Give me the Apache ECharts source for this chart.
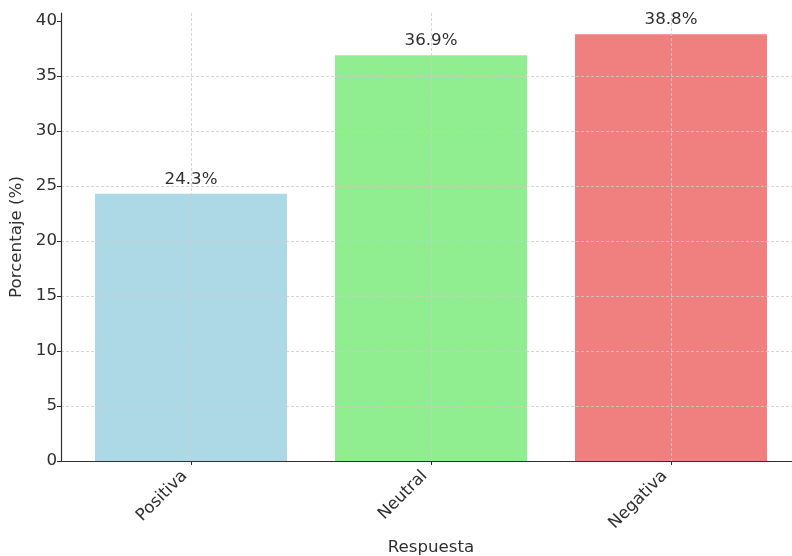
<!DOCTYPE html>
<html>
<head>
<meta charset="utf-8">
<script src="https://cdn.jsdelivr.net/npm/echarts@6/dist/echarts.min.js"></script>
<style>
  html, body { margin: 0; padding: 0; background: #ffffff; }
  #chart { width: 792px; height: 556px; }
</style>
</head>
<body>
<div id="chart"></div>
<script>
// Survey responses and their share of the total
const categories = ['Positiva', 'Neutral', 'Negativa'];
const percentages = [24.3, 36.9, 38.8];
const barColors = ['#ADD8E6', '#90EE90', '#F08080'];
const yTicks = [0, 5, 10, 15, 20, 25, 30, 35, 40];
const yMax = 40.74;

const FONT = 'DejaVu Sans';
const TEXT = '#303030';
const FS = 16.67;
const gridDash = { color: '#cccccc', width: 0.8, type: [3, 2] };

const chart = echarts.init(document.getElementById('chart'));

chart.setOption({
  animation: false,
  backgroundColor: '#ffffff',
  grid: [
    // frame: y axis, horizontal gridlines and the base line
    { left: 61, top: 13, width: 731, height: 448, outerBoundsMode: 'none', containLabel: false },
    // bars, centred on the category bands
    { left: 71, top: 13, width: 720, height: 448, outerBoundsMode: 'none', containLabel: false }
  ],
  xAxis: [
    {
      gridIndex: 0, type: 'value', min: 0, max: 1, z: 3,
      axisLine: { show: true, onZero: false, lineStyle: { color: TEXT, width: 1.2 } },
      axisTick: { show: false }, axisLabel: { show: false }, splitLine: { show: false }
    },
    {
      gridIndex: 1, type: 'category', data: categories, z: 3,
      axisLine: { show: false },
      axisTick: { show: true, alignWithLabel: true, length: 4, lineStyle: { color: TEXT, width: 1 } },
      axisLabel: {
        rotate: 45, margin: 6, padding: [0, 9, 0, 0],
        fontSize: FS, color: TEXT, fontFamily: FONT
      },
      splitLine: { show: false },
      name: 'Respuesta', nameLocation: 'middle', nameGap: 78,
      nameTextStyle: { fontSize: FS, color: TEXT, fontFamily: FONT }
    }
  ],
  yAxis: [
    {
      gridIndex: 0, type: 'value', min: 0, max: yMax, interval: 5, z: 3,
      axisLine: { show: true, lineStyle: { color: TEXT, width: 1.2 } },
      axisTick: { show: true, length: 4, customValues: yTicks, lineStyle: { color: TEXT, width: 1 } },
      axisLabel: {
        customValues: yTicks, margin: 4, padding: [3, 0, 0, 0],
        fontSize: FS, color: TEXT, fontFamily: FONT
      },
      splitLine: { show: true, showMaxLine: false, lineStyle: gridDash },
      name: 'Porcentaje (%)', nameLocation: 'middle', nameGap: 29,
      nameTextStyle: { fontSize: FS, color: TEXT, fontFamily: FONT }
    },
    {
      gridIndex: 1, type: 'value', min: 0, max: yMax, show: false,
      splitLine: { show: false }
    }
  ],
  series: [
    {
      type: 'bar',
      xAxisIndex: 1, yAxisIndex: 1,
      barWidth: '80%',
      itemStyle: { borderWidth: 0, borderRadius: 0 },
      data: percentages.map((v, i) => ({ value: v, itemStyle: { color: barColors[i] } })),
      label: {
        show: true, position: 'top', distance: 6,
        fontSize: FS, color: TEXT, fontFamily: FONT,
        formatter: p => p.value.toFixed(1) + '%'
      },
      markLine: {
        silent: true, symbol: 'none',
        label: { show: false },
        lineStyle: gridDash,
        data: categories.map(c => ({ xAxis: c }))
      }
    }
  ]
});
</script>
</body>
</html>
